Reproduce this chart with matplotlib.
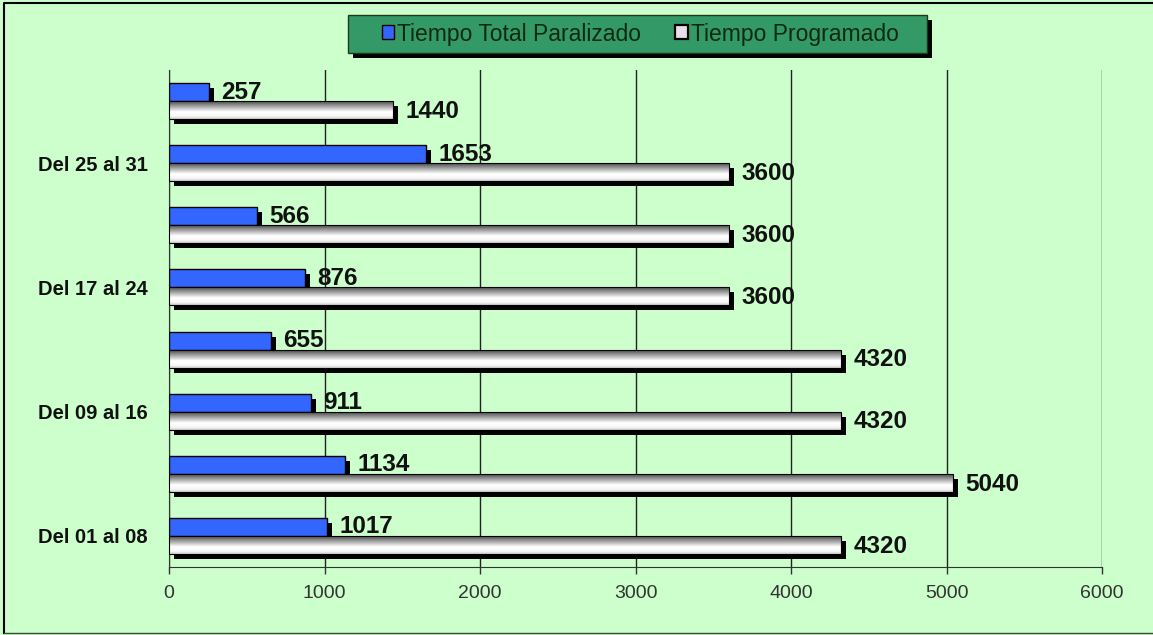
import numpy as np
import matplotlib
matplotlib.use("Agg")
import matplotlib.pyplot as plt
from matplotlib.patches import Patch, Rectangle
from matplotlib.lines import Line2D

# ---- data ----
week_labels = ['Del 01 al 08', '', 'Del 09 al 16', '', 'Del 17 al 24', '', 'Del 25 al 31', '']
paralizado = [1017, 1134, 911, 655, 876, 566, 1653, 257]
programado = [4320, 5040, 4320, 4320, 3600, 3600, 3600, 1440]
series_names = ['Tiempo Total Paralizado', 'Tiempo Programado']
x_ticks = [0, 1000, 2000, 3000, 4000, 5000, 6000]

plt.rcParams['font.family'] = ['Liberation Sans', 'DejaVu Sans']

BG = '#CCFFCC'
BLUE = '#3366FF'

fig = plt.figure(figsize=(11.53, 6.35), dpi=100, facecolor=BG)
ax = fig.add_axes([169/1153, 1 - 567/635, (1102-169)/1153, (567-70)/635])
ax.set_facecolor(BG)

y = np.arange(len(week_labels))
h = 0.29
dx = 32      # shadow offset in data units (x)
dy = 0.08    # shadow offset (y)

# blue series (above group centre)
ax.barh(y + h/2 - dy, paralizado, height=h, left=dx, color='black', zorder=2)
ax.barh(y + h/2, paralizado, height=h, color=BLUE, edgecolor='black', linewidth=1.0, zorder=3)

# white series (below group centre) with gradient
ax.barh(y - h/2 - dy, programado, height=h, left=dx, color='black', zorder=4)
wbars = ax.barh(y - h/2, programado, height=h, facecolor='none', edgecolor='black',
                linewidth=0.8, zorder=6)
grad = np.interp(np.linspace(0, 1, 120), [0, 0.15, 0.62, 0.85, 1.0],
                 [0.20, 0.42, 1.0, 0.97, 0.80]).reshape(-1, 1)
for rect in wbars:
    x0, yb = rect.get_x(), rect.get_y()
    im = ax.imshow(grad, cmap='gray', vmin=0, vmax=1, aspect='auto',
                   extent=(x0, x0 + rect.get_width(), yb, yb + rect.get_height()),
                   interpolation='bilinear', zorder=5)
    im.set_clip_path(rect)

# value labels
for yi, v in zip(y, paralizado):
    ax.text(v + 80, yi + h/2, str(v), va='center', ha='left', fontsize=17.5,
            fontweight='bold', color='#111111', zorder=7)
for yi, v in zip(y, programado):
    ax.text(v + 80, yi - h/2 - 0.02, str(v), va='center', ha='left', fontsize=17.5,
            fontweight='bold', color='#111111', zorder=7)

ax.set_xlim(0, 6000)
ax.set_ylim(-0.5, 7.5)
ax.set_xticks(x_ticks)
ax.set_xticklabels([str(t) for t in x_ticks], fontsize=14, color='#333333')
ax.set_yticks(y)
ax.set_yticklabels(week_labels, fontsize=14.5, fontweight='bold', color='#111111')
ax.tick_params(axis='y', length=0, pad=15.5)
ax.tick_params(axis='x', length=5, width=1, color='#333333', pad=8, direction='out')
ax.grid(axis='x', color='#222222', linewidth=1, zorder=0)
ax.set_axisbelow(True)
for s in ['top', 'right']:
    ax.spines[s].set_visible(False)
ax.spines['left'].set_color('#333333')
ax.spines['bottom'].set_color('#333333')

# legend box with shadow
lx0, lx1, ly0, ly1 = 348, 927, 15, 53
W, H = 1153, 635
fig.patches.append(Rectangle(((lx0 + 5)/W, 1 - (ly1 + 5)/H), (lx1-lx0)/W, (ly1-ly0)/H,
                             transform=fig.transFigure, facecolor='black', edgecolor='none', zorder=1))
fig.patches.append(Rectangle((lx0/W, 1 - ly1/H), (lx1-lx0)/W, (ly1-ly0)/H,
                             transform=fig.transFigure, facecolor='#339966', edgecolor='#1a3a1a',
                             linewidth=1, zorder=2))
handles = [Patch(facecolor=BLUE, edgecolor='black', linewidth=1.0),
           Patch(facecolor='#e8e0e8', edgecolor='black', linewidth=1.6)]
leg = fig.legend(handles, series_names, loc='center', bbox_to_anchor=(640/W, 1 - 34/H),
                 ncol=2, frameon=False, fontsize=16.5, handlelength=0.55, handleheight=0.55,
                 handletextpad=0.12, columnspacing=1.5)
leg.set_zorder(3)
for t in leg.get_texts():
    t.set_color('#102a10')

# outer border
fig.lines.append(Line2D([4/W, 4/W, 1152/W], [1 - 633/H, 1 - 3/H, 1 - 3/H], transform=fig.transFigure,
                        color='black', linewidth=1.5))
fig.lines.append(Line2D([4/W, 1152/W], [1 - 633/H, 1 - 633/H], transform=fig.transFigure,
                        color='#444444', linewidth=1))

fig.savefig('out.png', dpi=100, facecolor=BG)
